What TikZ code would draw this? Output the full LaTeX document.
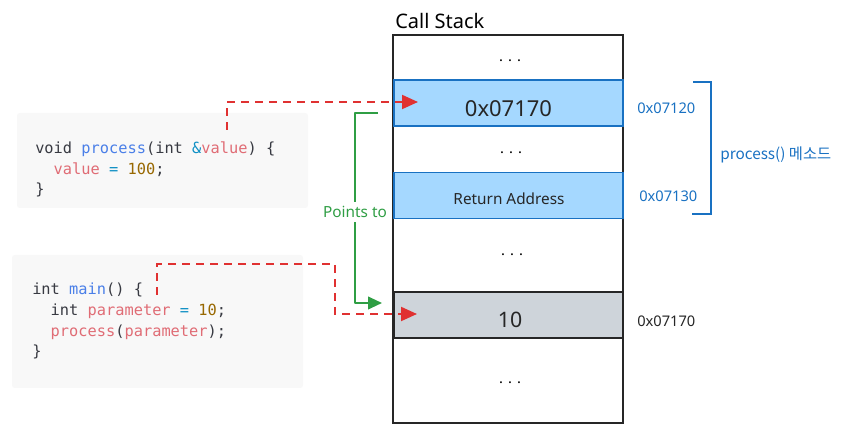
\documentclass[tikz,border=0pt]{standalone}
\usepackage{fontspec}
\setmainfont{Noto Sans}
\newfontfamily\codefont{DejaVu Sans Mono}
\newfontfamily\krfont{Noto Sans CJK KR}
\usetikzlibrary{arrows.meta}

\definecolor{cs-CodeBack}{HTML}{F8F8F8}
\definecolor{cs-CodeText}{HTML}{383A42}
\definecolor{cs-CodeFunc}{HTML}{4A7FE8}
\definecolor{cs-CodeVar}{HTML}{E06C75}
\definecolor{cs-CodeOp}{HTML}{0E8FC4}
\definecolor{cs-CodeNum}{HTML}{986801}
\definecolor{cs-FrameBlue}{HTML}{A5D8FF}
\definecolor{cs-FrameBlueLine}{HTML}{1971C2}
\definecolor{cs-FrameGray}{HTML}{CED4DA}
\definecolor{cs-PointerRed}{HTML}{E03131}
\definecolor{cs-PointsGreen}{HTML}{2F9E44}
\tikzstyle{cs-code-box}=[rectangle,
                         fill=cs-CodeBack,
                         rounded corners=2pt,
                         inner sep=0pt,
                        ]
\tikzstyle{cs-code}=[anchor=north west, inner sep=0pt, align=left,
                     text=cs-CodeText,
                     font=\codefont\fontsize{11.5}{15.5}\selectfont]
\tikzstyle{cs-stack}=[rectangle, draw=black!85, line width=1.4pt,
                      minimum width=172.5pt, minimum height=291pt]
\tikzstyle{cs-frame-base}=[rectangle,
                           line width=1.2pt,
                           inner sep=0pt,
                           minimum width=171.75pt,
                           minimum height=34.5pt,
                          ]
\tikzstyle{cs-frame-ref}=[cs-frame-base, fill=cs-FrameBlue, draw=cs-FrameBlueLine]
\tikzstyle{cs-frame-param}=[cs-frame-base, fill=cs-FrameGray, draw=black!85]
\tikzstyle{cs-frame-text}=[inner sep=0pt, text=black!85]
\tikzstyle{cs-dots}=[inner sep=0pt, font=\fontsize{11}{13}\selectfont]
\tikzstyle{cs-address}=[anchor=west, inner sep=0pt, font=\fontsize{11}{13}\selectfont]
\tikzstyle{cs-pointer}=[cs-PointerRed, line width=1.5pt,
                        dash pattern=on 6pt off 4.5pt,
                        -{Triangle[length=12pt,width=10.5pt]}]
\tikzstyle{cs-points-to}=[cs-PointsGreen, line width=1.5pt, line join=round,
                          -{Triangle[length=10.5pt,width=9.5pt]}]
\tikzstyle{cs-bracket}=[cs-FrameBlueLine, line width=1.4pt]

\begin{document}
\begin{tikzpicture}[x=0.75pt, y=-0.75pt]
    \useasboundingbox (0,0) rectangle (844,434);

    % Code
    % --------------------------------------------------------------------------
    \node at (162.5, 160.5) (process_box) [cs-code-box, minimum width=218.25pt, minimum height=71.25pt] {};
    \node at (35, 141.5) (process_code) [cs-code] {void \textcolor{cs-CodeFunc}{process}(int \textcolor{cs-CodeOp}{\&}\textcolor{cs-CodeVar}{value}) \{\\
        \phantom{xx}\textcolor{cs-CodeVar}{value} \textcolor{cs-CodeOp}{=} \textcolor{cs-CodeNum}{100};\\
        \}};

    \node at (157.5, 321.5) (main_box) [cs-code-box, minimum width=218.25pt, minimum height=99.75pt] {};
    \node at (32, 283) (main_code) [cs-code] {int \textcolor{cs-CodeFunc}{main}() \{\\
        \phantom{xx}int \textcolor{cs-CodeVar}{parameter} \textcolor{cs-CodeOp}{=} \textcolor{cs-CodeNum}{10};\\
        \phantom{xx}\textcolor{cs-CodeVar}{process}(\textcolor{cs-CodeVar}{parameter});\\
        \}};

    % Call stack
    % --------------------------------------------------------------------------
    \node at (508, 229) (stack) [cs-stack] {};
    \node at (395, 29) (stack_title) [anchor=south west, inner sep=0pt, font=\bfseries\fontsize{15}{17}\selectfont] {Call Stack};

    \node at (510, 61)  (dots_top)    [cs-dots] {. . .};
    \node at (508.5, 103) (frame_ref) [cs-frame-ref] {};
    \node at (508.5, 109) (frame_ref_text) [cs-frame-text, font=\fontsize{16.5}{18}\selectfont] {0x07170};
    \node at (511, 153) (dots_mid)    [cs-dots] {. . .};
    \node at (508.5, 195.5) (frame_ret) [cs-frame-ref] {};
    \node at (509, 199) (frame_ret_text) [cs-frame-text, font=\fontsize{11.5}{13}\selectfont] {Return Address};
    \node at (512, 255) (dots_low)    [cs-dots] {. . .};
    \node at (508.5, 315) (frame_param) [cs-frame-param] {};
    \node at (510, 320) (frame_param_text) [cs-frame-text, font=\fontsize{16}{18}\selectfont] {10};
    \node at (510, 383) (dots_bottom) [cs-dots] {. . .};

    % Addresses
    % --------------------------------------------------------------------------
    \node at (637, 108) (addr_ref)   [cs-address, text=cs-FrameBlueLine] {0x07120};
    \node at (639, 196) (addr_ret)   [cs-address, text=cs-FrameBlueLine] {0x07130};
    \node at (637, 321) (addr_param) [cs-address, text=black!85] {0x07170};

    \coordinate (bracket_top) at (693, 82);
    \coordinate (bracket_bottom) at (692, 214);
    \draw[cs-bracket] (bracket_top) -- (711, 82) |- (bracket_bottom);
    \node at (720, 155) (method_text) [anchor=west, inner sep=0pt, text=cs-FrameBlueLine,
                                       font=\krfont\fontsize{11.5}{13}\selectfont] {process() 메소드};

    % Arrows
    % --------------------------------------------------------------------------
    \coordinate (value_ref) at (227, 130);
    \coordinate (ref_in)    at (418, 102);
    \draw[cs-pointer] (value_ref) |- (ref_in);

    \coordinate (param_ref) at (157, 295);
    \coordinate (param_in)  at (417, 314);
    \draw[cs-pointer] (param_ref) -- (157, 264) -- (335, 264) |- (param_in);

    \coordinate (points_from) at (378, 113);
    \coordinate (points_in)   at (382, 303);
    \draw[cs-points-to] (points_from) -- (355, 113)
        -- node[pos=0.52, fill=white, inner sep=3pt, text=cs-PointsGreen,
                font=\fontsize{11.5}{13}\selectfont] (points_text) {Points to} (355, 303)
        -- (points_in);

\end{tikzpicture}
\end{document}
